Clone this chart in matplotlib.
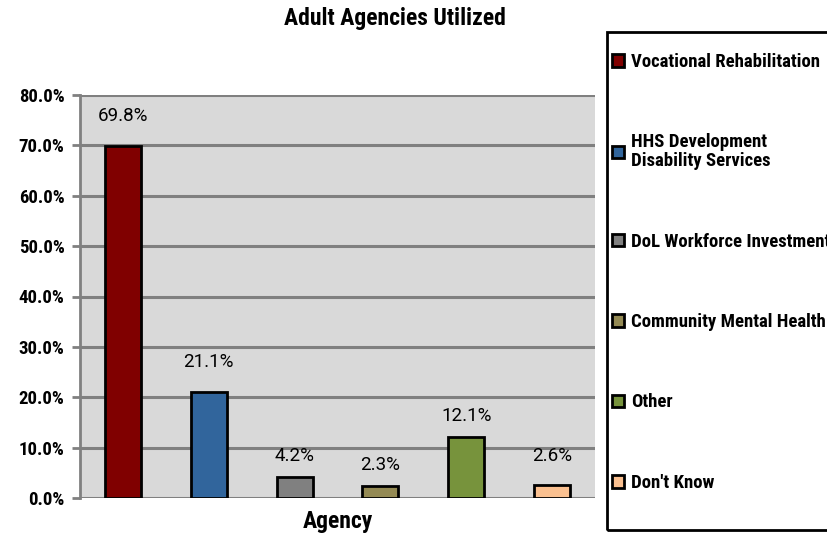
import matplotlib.pyplot as plt
from matplotlib.patches import Rectangle

# data
agencies = ["Vocational Rehabilitation", "HHS Development\nDisability Services",
            "DoL Workforce Investment", "Community Mental Health",
            "Other", "Don't Know"]
percent = [69.8, 21.1, 4.2, 2.3, 12.1, 2.6]
colors = ["#800000", "#31659C", "#808080", "#948A54", "#77933C", "#FAC090"]
yticks = [0, 10, 20, 30, 40, 50, 60, 70, 80]

# how far above each bar its label sits (percent units), as in the original
label_gap = [6.0, 5.9, 4.1, 4.2, 4.2, 5.7]

font = ["Roboto Condensed", "DejaVu Sans"]

fig = plt.figure(figsize=(8.27, 5.34), dpi=100)
ax = fig.add_axes([80/827, 1-498/534, (595-80)/827, (498-95)/534])

ax.set_facecolor("#D9D9D9")
x = list(range(len(percent)))
ax.bar(x, percent, width=0.42, color=colors, edgecolor="black", linewidth=2, zorder=3)
for xi, v, g in zip(x, percent, label_gap):
    ax.text(xi, v + g, f"{v:.1f}%", ha="center", va="center",
            fontsize=13.5, family=["Roboto", "DejaVu Sans"], zorder=4)

ax.set_xlim(-0.5, len(percent) - 0.5)
ax.set_ylim(0, 80)
ax.set_yticks(yticks)
ax.set_yticklabels([f"{t:.1f}%" for t in yticks], fontsize=13.5,
                   fontweight="bold", family=font)
ax.set_xticks([])
ax.yaxis.grid(True, color="#808080", linewidth=2.2, zorder=1)
ax.tick_params(axis="y", length=6, width=2, color="#808080", pad=5)
for side in ["top", "right", "bottom"]:
    ax.spines[side].set_visible(False)
ax.spines["left"].set_color("#808080")
ax.spines["left"].set_linewidth(2)

ax.set_xlabel("Agency", fontsize=17, fontweight="bold", family=font, labelpad=8.5)
fig.text(395/827, 1-19/534, "Adult Agencies Utilized", ha="center", va="center",
         fontsize=17, fontweight="bold", family=font)

# legend box, drawn on its own so the padding can match the reference
fig.patches.append(Rectangle((607/827, 1-530/534), 240/827, (530-32)/534,
                             transform=fig.transFigure, fill=False,
                             edgecolor="black", linewidth=2))
handles = [Rectangle((0, 0), 1, 1, facecolor=c, edgecolor="black", linewidth=2)
           for c in colors]
leg = fig.legend(handles, agencies, loc="upper left",
                 bbox_to_anchor=(612/827, 1-53/534), frameon=False,
                 prop={"family": font, "weight": "bold", "size": 13.5},
                 labelspacing=3.33, handlelength=0.65, handleheight=0.65,
                 handletextpad=0.35, borderpad=0, borderaxespad=0)
for t in leg.get_texts():
    t.set_linespacing(1.05)

fig.savefig("out.png", dpi=100)
